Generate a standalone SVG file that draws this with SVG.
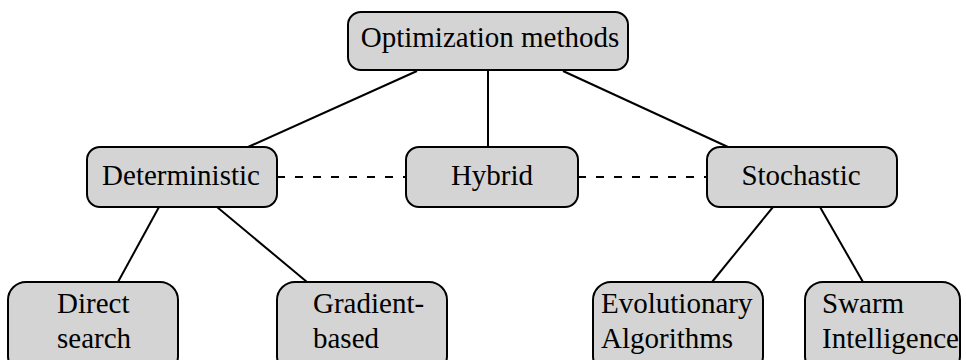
<svg xmlns="http://www.w3.org/2000/svg" width="966" height="360" viewBox="0 0 966 360">
  <style>
    .box { fill: #d4d4d4; stroke: #000; stroke-width: 2; }
    .lbl { font-family: "Liberation Serif", "Times New Roman", serif; font-size: 29px; fill: #000; }
    .c { text-anchor: middle; }
    .edge { stroke: #000; stroke-width: 2; fill: none; }
    .dash { stroke: #000; stroke-width: 2; fill: none; stroke-dasharray: 8 10; }
  </style>
  <rect width="966" height="360" fill="#fff"/>
  <g id="connectors">
    <line class="edge" x1="417" y1="71" x2="248" y2="147"/>
    <line class="edge" x1="488" y1="71" x2="488" y2="147"/>
    <line class="edge" x1="563" y1="71" x2="728" y2="147"/>
    <line class="edge" x1="159" y1="207" x2="118" y2="282"/>
    <line class="edge" x1="217" y1="207" x2="307" y2="282"/>
    <line class="edge" x1="773" y1="207" x2="712" y2="282"/>
    <line class="edge" x1="820" y1="207" x2="863" y2="282"/>
    <line class="dash" x1="277" y1="177" x2="406" y2="177"/>
    <line class="dash" x1="578" y1="177" x2="707" y2="177"/>
  </g>
  <g id="optimization-methods">
    <rect class="box" x="348" y="12" width="280" height="58" rx="13"/>
    <text class="lbl c" x="490" y="47">Optimization methods</text>
  </g>
  <g id="deterministic">
    <rect class="box" x="87" y="147" width="190" height="60" rx="13"/>
    <text class="lbl c" x="181" y="185">Deterministic</text>
  </g>
  <g id="hybrid">
    <rect class="box" x="406" y="147" width="172" height="60" rx="13"/>
    <text class="lbl c" x="492" y="185">Hybrid</text>
  </g>
  <g id="stochastic">
    <rect class="box" x="707" y="147" width="190" height="60" rx="13"/>
    <text class="lbl c" x="801" y="185">Stochastic</text>
  </g>
  <g id="direct-search">
    <rect class="box" x="8" y="282" width="170" height="92" rx="18"/>
    <text class="lbl" x="57" y="313">Direct</text>
    <text class="lbl" x="57" y="348">search</text>
  </g>
  <g id="gradient-based">
    <rect class="box" x="277" y="282" width="170" height="92" rx="18"/>
    <text class="lbl" x="313" y="313">Gradient-</text>
    <text class="lbl" x="313" y="348">based</text>
  </g>
  <g id="evolutionary-algorithms">
    <rect class="box" x="593" y="282" width="170" height="92" rx="18"/>
    <text class="lbl" x="601" y="313">Evolutionary</text>
    <text class="lbl" x="601" y="348">Algorithms</text>
  </g>
  <g id="swarm-intelligence">
    <rect class="box" x="805" y="282" width="155" height="92" rx="18"/>
    <text class="lbl" x="822" y="313">Swarm</text>
    <text class="lbl" x="822" y="348">Intelligence</text>
  </g>
</svg>
